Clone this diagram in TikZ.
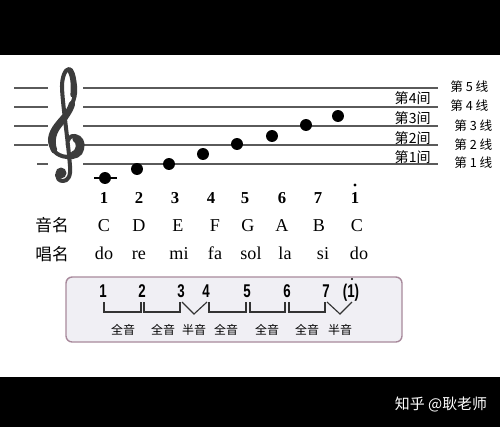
\documentclass[tikz,border=0pt]{standalone}
\usepackage{fontspec}
\setmainfont{Liberation Serif}
\newfontfamily\cjk{Noto Sans CJK SC}
\newfontfamily\condsans[FakeStretch=0.72]{Liberation Sans}
\definecolor{stgray}{HTML}{5A5A5A}
\definecolor{clefgray}{HTML}{3C3C3C}
\definecolor{boxfill}{HTML}{F0EFF4}
\definecolor{boxline}{HTML}{A88A9C}
\tikzset{
  staffline/.style={draw=stgray, line width=1.2pt},
  note/.style={circle, fill=black, inner sep=0pt, minimum size=6.8pt},
  numlbl/.style={font=\fontsize{9.5}{10}\selectfont\bfseries, anchor=base, inner sep=0pt},
  letlbl/.style={font=\fontsize{10.3}{11}\selectfont, anchor=base, inner sep=0pt},
  rowhead/.style={font=\cjk\fontsize{9.5}{10}\selectfont, anchor=base, inner sep=0pt},
  linelbl/.style={font=\cjk\fontsize{7.2}{8}\selectfont, anchor=west, inner sep=0pt},
  spacelbl/.style={font=\cjk\fontsize{8}{9}\selectfont, anchor=east, inner sep=0pt},
  boxnum/.style={font=\condsans\bfseries\fontsize{10.5}{11}\selectfont, anchor=base, inner sep=0pt},
  steplbl/.style={font=\cjk\fontsize{6.8}{7}\selectfont, inner sep=0pt},
  bracket/.style={draw=black!80, line width=0.65pt},
  clefstroke/.style={draw=clefgray, line cap=round, line join=round},
}
\begin{document}
\begin{tikzpicture}[x=0.02cm, y=-0.02cm]
\useasboundingbox (0,0) rectangle (500,427);
\fill[white] (0,0) rectangle (500,427);
\fill[black] (0,0) rectangle (500,55);
\fill[black] (0,377) rectangle (500,427);

% staff lines
\foreach \yy in {88,107,126,145}{
  \draw[staffline] (14,\yy) -- (48,\yy);
}
\draw[staffline] (37,164) -- (48,164);
\foreach \yy in {88,107,126,145,164}{
  \draw[staffline] (83,\yy) -- (438,\yy);
}

% treble clef
\draw[clefstroke, line width=2.3pt]
  (68,146) .. controls (66,139) and (71,135) .. (75,136)
  .. controls (81,137) and (84,143) .. (82,149)
  .. controls (81,155) and (75,158) .. (67,157)
  .. controls (56,156) and (50,149) .. (50,139)
  .. controls (51,128) and (61,120) .. (67,112)
  .. controls (73,104) and (76,96) .. (75,86)
  .. controls (74,76) and (72,69) .. (69,69)
  .. controls (65,69) and (62,78) .. (62,86)
  .. controls (62,100) and (68,140) .. (70,166)
  .. controls (71,176) and (68,181) .. (63,181)
  .. controls (59,181) and (57,178) .. (57,175);
% thick parts of the clef
\draw[clefstroke, line width=3.6pt]
  (54,150) .. controls (51,141) and (53,132) .. (59,125)
  .. controls (64,119) and (70,111) .. (72,104);
\draw[clefstroke, line width=3pt]
  (75,139) .. controls (80,142) and (80,151) .. (73,154);
\draw[clefstroke, line width=3pt]
  (73,95) .. controls (74,85) and (73,75) .. (70,71);
\fill[clefgray] (61,173) circle (5.5);

% ledger line and notes
\draw[black, line width=1.3pt] (94,178) -- (117,178);
\node[note] (n1) at (105,178) {};
\node[note] (n2) at (137,169) {};
\node[note] (n3) at (169,164) {};
\node[note] (n4) at (203,154) {};
\node[note] (n5) at (237,144) {};
\node[note] (n6) at (272,136) {};
\node[note] (n7) at (306,125) {};
\node[note] (n8) at (338,116) {};

% line labels
\node[linelbl] (L5) at (450,87) {第 5 线};
\node[linelbl] (L4) at (450,106) {第 4 线};
\node[linelbl] (L3) at (454,126) {第 3 线};
\node[linelbl] (L2) at (454,145) {第 2 线};
\node[linelbl] (L1) at (454,163) {第 1 线};
\node[spacelbl] (S4) at (431,98) {第4间};
\node[spacelbl] (S3) at (431,118) {第3间};
\node[spacelbl] (S2) at (431,138) {第2间};
\node[spacelbl] (S1) at (431,157) {第1间};

% number row
\node[numlbl] (d1) at (104,203) {1};
\node[numlbl] (d2) at (139,203) {2};
\node[numlbl] (d3) at (175,203) {3};
\node[numlbl] (d4) at (211,203) {4};
\node[numlbl] (d5) at (245,203) {5};
\node[numlbl] (d6) at (282,203) {6};
\node[numlbl] (d7) at (318,203) {7};
\node[numlbl] (d8) at (355,203) {1};
\fill (355,185) circle (1.6);

% note names
\node[rowhead] (h1) at (52,231) {音名};
\node[letlbl] (c1) at (104,231) {C};
\node[letlbl] (c2) at (139,231) {D};
\node[letlbl] (c3) at (178,231) {E};
\node[letlbl] (c4) at (215,231) {F};
\node[letlbl] (c5) at (248,231) {G};
\node[letlbl] (c6) at (282,231) {A};
\node[letlbl] (c7) at (319,231) {B};
\node[letlbl] (c8) at (357,231) {C};

% sol-fa names
\node[rowhead] (h2) at (52,260) {唱名};
\node[letlbl] (s1) at (104,259) {do};
\node[letlbl] (s2) at (139,259) {re};
\node[letlbl] (s3) at (179,259) {mi};
\node[letlbl] (s4) at (215,259) {fa};
\node[letlbl] (s5) at (251,259) {sol};
\node[letlbl] (s6) at (285,259) {la};
\node[letlbl] (s7) at (323,259) {si};
\node[letlbl] (s8) at (359,259) {do};

% interval box
\draw[draw=boxline, fill=boxfill, line width=0.8pt, rounded corners=3.5pt] (66,277) rectangle (402,342);
\node[boxnum] (b1) at (103,297) {1};
\node[boxnum] (b2) at (142,297) {2};
\node[boxnum] (b3) at (181,297) {3};
\node[boxnum] (b4) at (206,297) {4};
\node[boxnum] (b5) at (247,297) {5};
\node[boxnum] (b6) at (287,297) {6};
\node[boxnum] (b7) at (326,297) {7};
\node[boxnum] (b8) at (351,297) {(1)};
\fill (352,279) circle (1.2);

\draw[bracket] (104,302) -- (104,312) -- (141,312) -- (141,302);
\draw[bracket] (144,302) -- (144,312) -- (180,312) -- (180,302);
\draw[bracket] (182,302) -- (194,314) -- (207,302);
\draw[bracket] (209,302) -- (209,312) -- (246,312) -- (246,302);
\draw[bracket] (250,302) -- (250,312) -- (285,312) -- (285,302);
\draw[bracket] (289,302) -- (289,312) -- (325,312) -- (325,302);
\draw[bracket] (327,302) -- (340,314) -- (352,302);

\node[steplbl] (t1) at (123,330) {全音};
\node[steplbl] (t2) at (163,330) {全音};
\node[steplbl] (t3) at (194,330) {半音};
\node[steplbl] (t4) at (226,330) {全音};
\node[steplbl] (t5) at (267,330) {全音};
\node[steplbl] (t6) at (307,330) {全音};
\node[steplbl] (t7) at (340,330) {半音};

% watermark
\node[font=\cjk\fontsize{8.5}{9}\selectfont, text=white, inner sep=0pt] (wm) at (441,405) {知乎 @耿老师};
\end{tikzpicture}
\end{document}
